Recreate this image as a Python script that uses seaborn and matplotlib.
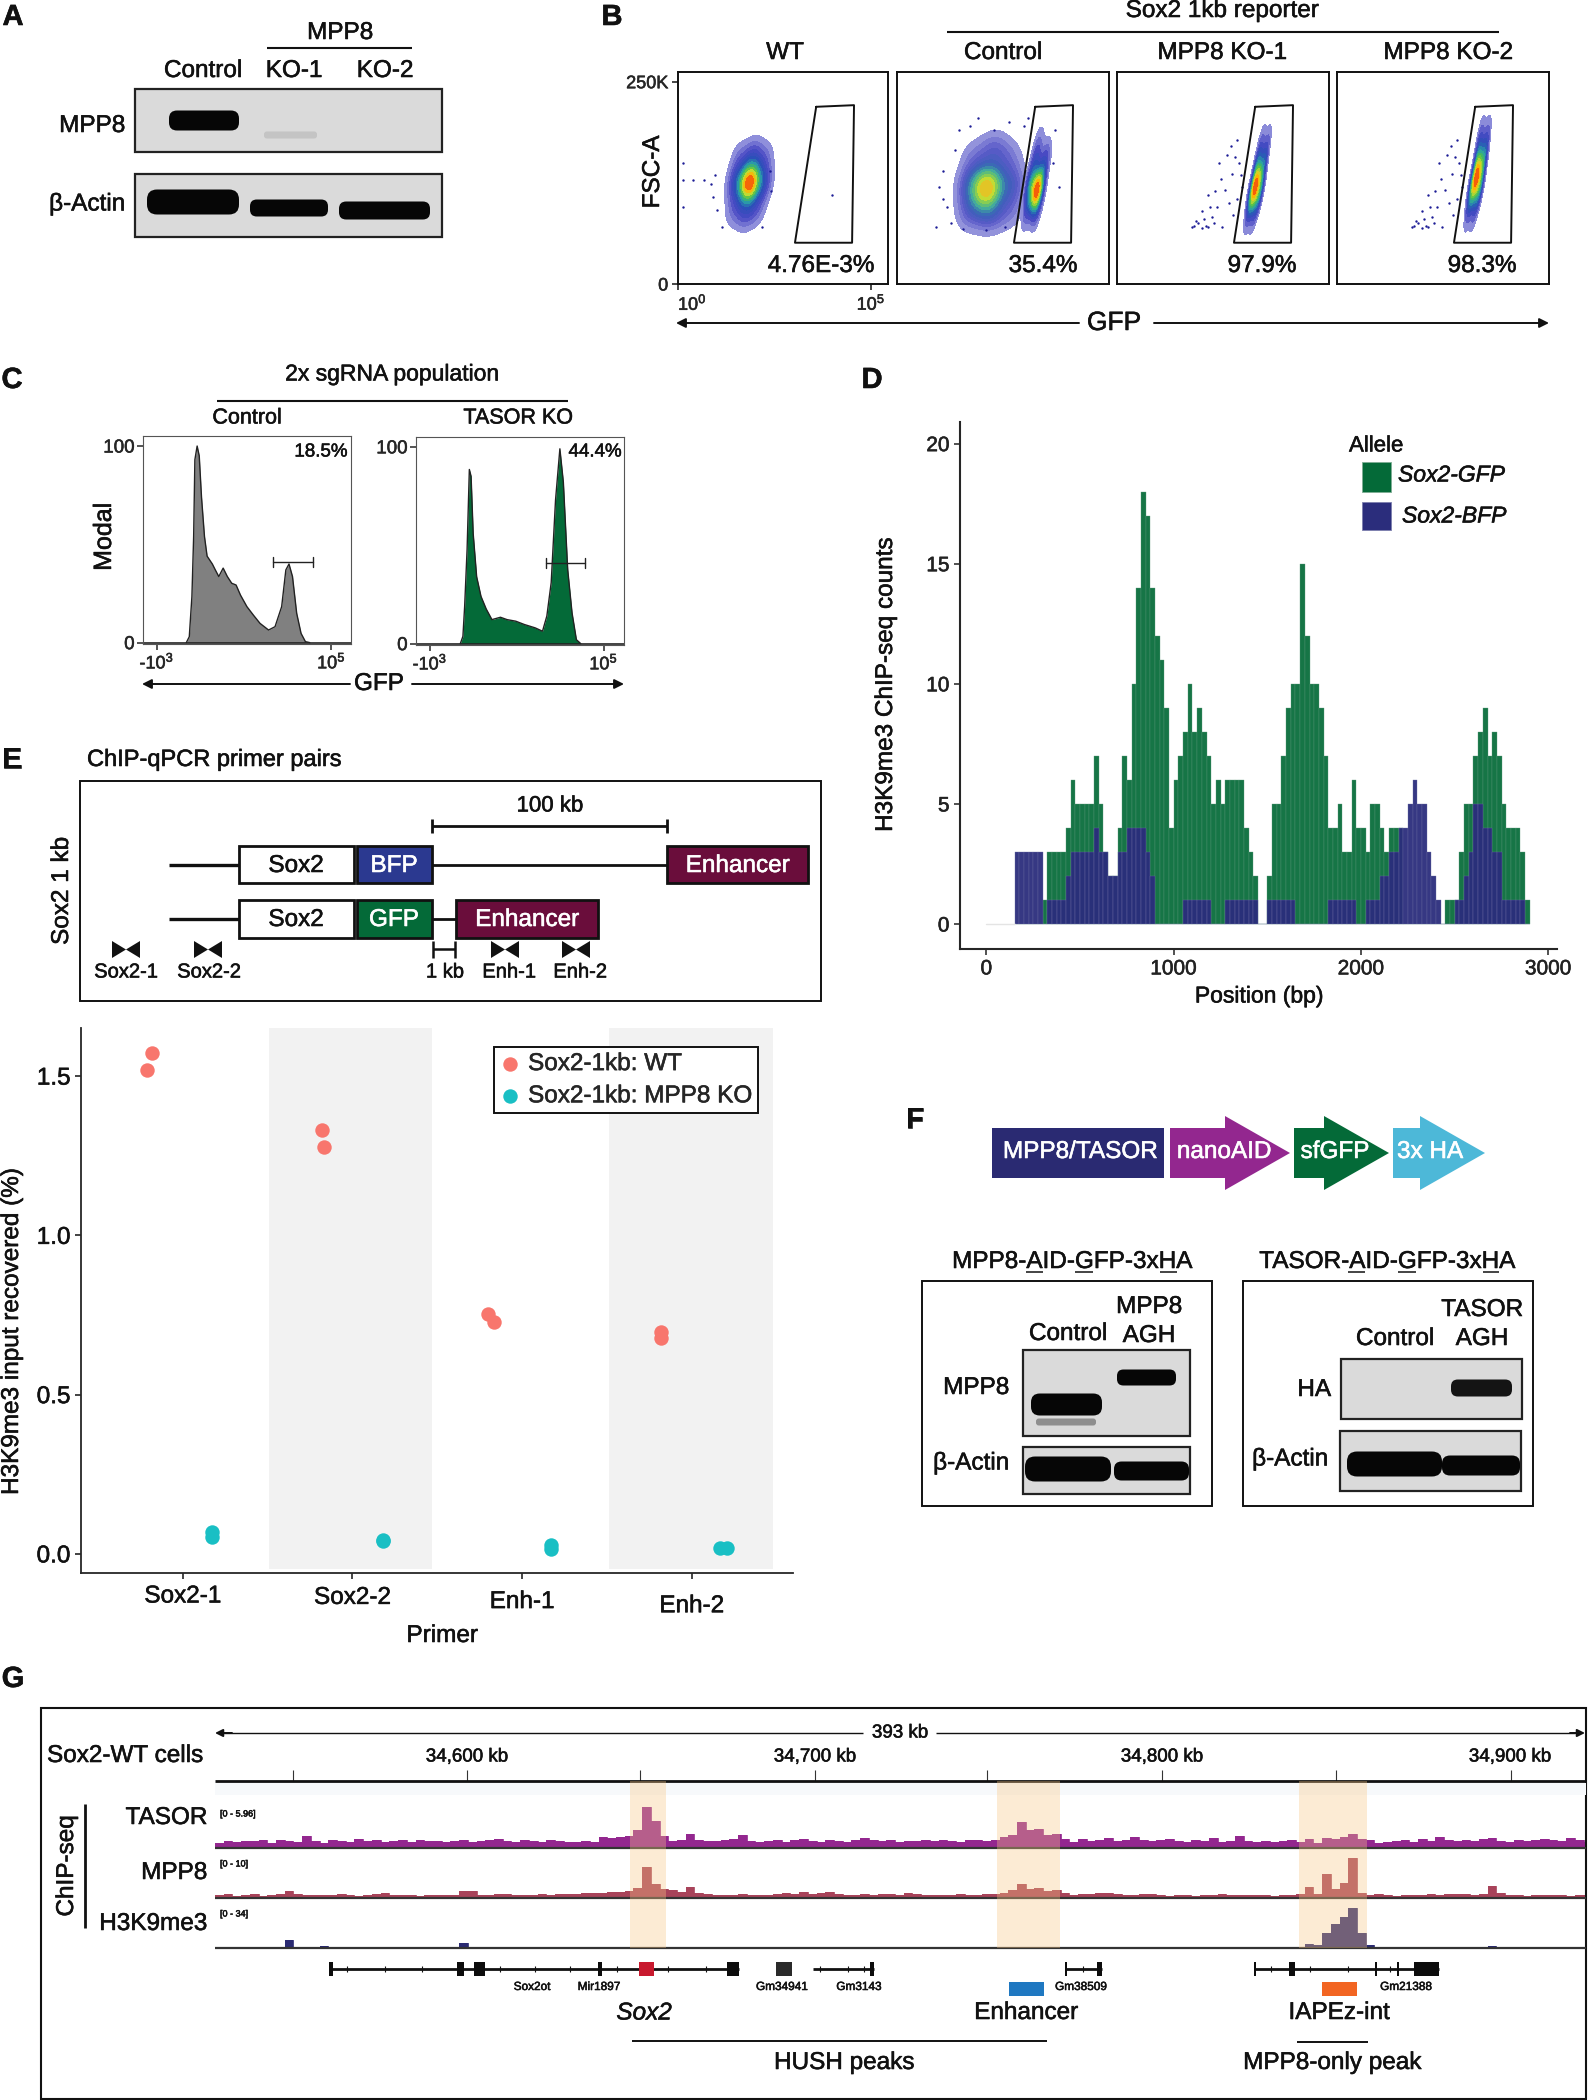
import matplotlib
matplotlib.use('Agg')
import matplotlib.pyplot as plt
import matplotlib.patheffects as pe
from matplotlib.colors import LinearSegmentedColormap
from matplotlib.patches import FancyBboxPatch, FancyArrowPatch, Polygon, Rectangle
from matplotlib.text import Text
import seaborn as sns
import numpy as np

W, H = 1588, 2100

# panel B flow clouds: [x, y, weight] (log GFP, FSC-A in K)
wt_x = [1.45, 1.75, 2.05, 1.5, 1.85, 2.2, 1.6, 1.95, 2.25, 1.85]
wt_y = [92, 88, 92, 125, 125, 125, 155, 160, 155, 125]
wt_w = [1, 1.5, 1, 2, 3, 2, 1, 1.5, 1, 6]
ctrl_left_x = [1.9, 2.4, 2.9, 1.9, 2.4, 2.95, 2.0, 2.5, 2.9, 2.3]
ctrl_left_y = [90, 88, 90, 122, 122, 122, 155, 165, 155, 118]
ctrl_left_w = [1.5, 2, 1, 2, 3, 2, 1, 1.5, 1, 5]
ctrl_right_x = [3.35, 3.6, 3.45, 3.7, 3.6, 3.85, 3.7, 3.6]
ctrl_right_y = [88, 88, 120, 120, 155, 155, 180, 115]
ctrl_right_w = [1, 1, 3, 3, 1.5, 1.5, .5, 6]
ko1_x = [3.4, 3.55, 3.5, 3.7, 3.65, 3.8, 3.75, 3.9, 3.6]
ko1_y = [85, 85, 115, 115, 150, 150, 178, 178, 120]
ko1_w = [1, 1, 3, 3, 2, 2, .7, .7, 6]
ko2_x = [3.4, 3.55, 3.5, 3.7, 3.65, 3.8, 3.72, 3.88, 3.62]
ko2_y = [88, 88, 120, 120, 155, 155, 185, 185, 130]
ko2_w = [1, 1, 3, 3, 2.5, 2.5, 1, 1, 6]

wt_sparse_x = [.14, .14, .4, .67, .86, .14, 1.13, 2.18, 2.38, .9, .95, 2.42, 1.0, 4.0]
wt_sparse_y = [149, 128, 128, 128, 124, 95, 70, 70, 140, 107, 135, 115, 92, 110]
ctrl_sparse_x = [1.1, 1.3, 1.5, 1.4, 1.2, 1.0, 1.6, 1.9, 2.1, 2.5, 2.9, 3.3, 1.7, 2.3, 2.8, 4.1, 4.2, 4.05, 1.2, 3.4]
ctrl_sparse_y = [120, 95, 165, 75, 140, 70, 190, 195, 205, 190, 200, 195, 68, 67, 70, 190, 120, 150, 105, 205]
tail_x = [1.95, 2.0, 2.1, 2.2, 2.25, 2.3, 2.35, 2.46, 2.5, 2.6, 2.72, 2.8, 2.98, 3.05, 3.1, 3.15, 3.24, 2.4, 2.7, 2.9, 3.0, 2.55, 2.85, 3.2, 3.1, 2.95, 2.2, 2.05, 2.65, 2.35]
tail_y = [70, 72, 75, 69, 80, 72, 70, 83, 75, 95, 70, 116, 136, 157, 178, 150, 120, 95, 130, 100, 85, 115, 160, 135, 105, 170, 90, 78, 150, 110]

# panel C histograms (position between the two ticks, % of mode)
ctrl_hist_x = [16.9, 18.6, 20.1, 21.1, 21.8, 23.1, 24.3, 25.6, 27.3, 28.8, 31.8, 33.5, 35.5, 38, 40.4, 42.9, 45.4, 47.9, 51.6, 55.3, 59.1, 64, 67.7, 71.5, 73.9, 75.7, 77.7, 80.1, 82.6, 85.1, 87.6]
ctrl_hist_y = [0, 3, 23.4, 54, 93, 100, 95, 74, 54, 44, 40, 37, 33.6, 37.9, 33.6, 30.2, 29.3, 24.2, 18.3, 14, 9.8, 6.4, 8.1, 18.3, 37, 40, 33.6, 14.9, 4.7, .5, 0]
tasor_hist_x = [17.5, 19, 20, 21.4, 22.7, 23.7, 24.9, 26.9, 29.4, 32.4, 35.7, 40.6, 44.4, 49.4, 54.4, 60.6, 64.8, 67.3, 69.8, 72.3, 74.8, 76.8, 79.3, 81.8, 84.3, 86.8]
tasor_hist_y = [0, 3.7, 19, 47.8, 88.5, 85, 56, 34, 24, 17.6, 12.2, 13.4, 12.2, 11.4, 9.7, 8, 6.3, 14, 31, 73, 99, 82, 37.6, 15.6, 2, 0]

# panel D counts in 25 bp bins starting at 150 bp
gfp_counts = [0, 0, 0, 0, 0, 0, 1, 3, 3, 3, 3, 4, 6, 5, 5, 5, 5, 7, 5, 3, 2, 2, 4, 7, 6, 10, 14, 18, 17, 14,
              12, 11, 9, 4, 6, 7, 8, 10, 8, 9, 8, 7, 5, 6, 5, 6, 6, 6, 6, 4, 3, 2, 0, 0, 2, 5, 5, 7, 9, 10,
              10, 15, 12, 10, 10, 9, 7, 4, 4, 5, 3, 3, 6, 4, 4, 3, 5, 5, 4, 3, 4, 4, 4, 0, 0, 0, 0, 0, 0, 0,
              0, 0, 1, 1, 1, 3, 5, 5, 7, 8, 9, 7, 8, 7, 5, 4, 4, 4, 3, 1]
bfp_counts = [3, 3, 3, 3, 3, 3, 0, 1, 1, 1, 1, 2, 3, 3, 3, 3, 3, 4, 3, 3, 2, 2, 3, 3, 4, 4, 4, 4, 3, 2,
              0, 0, 0, 0, 0, 0, 1, 1, 1, 1, 1, 1, 0, 0, 0, 1, 1, 1, 1, 1, 1, 1, 0, 0, 1, 1, 1, 1, 1, 1,
              0, 0, 0, 0, 0, 0, 0, 1, 1, 1, 1, 1, 1, 0, 0, 1, 1, 1, 2, 2, 3, 3, 4, 4, 5, 6, 5, 5, 3, 2,
              1, 0, 0, 0, 1, 1, 2, 3, 5, 5, 4, 4, 3, 3, 1, 1, 1, 1, 1, 0]
bin_start = 150
bin_width = 25

# panel E ChIP-qPCR
primers = ['Sox2-1', 'Sox2-2', 'Enh-1', 'Enh-2']
wt_pos = [-.18, -.21, .82, .835, 1.80, 1.835, 2.82, 2.82]
wt_val = [1.573, 1.52, 1.33, 1.276, .754, .727, .698, .677]
ko_pos = [.17, .17, 1.18, 1.18, 2.17, 2.17, 3.166, 3.21]
ko_val = [.068, .054, .044, .042, .028, .016, .019, .017]

# panel G tracks, 2.5 kb bins from the left edge of the browser window
track_start = 34527.7
track_bin = 2.5
tasor_track = [.6, .8, .7, .8, .8, .9, .6, .9, .8, .7, 1.3, .8, .6, .9, .8, .7, 1.0, .8, .9, .7, .8, .9, .7, .9, .8, .8, .7, .8, .9, .7,
               .8, .9, 1.0, .8, .7, .9, .8, .7, .9, .8, .7, .7, .8, .7, 1.2, 1.1, 1.2, 1.3, 2.0, 4.5, 3.0, 1.3, .8, .9, 1.5, .9, .8, .8, .9, 1.0,
               1.4, .8, .7, .8, .9, .7, .9, 1.0, .8, .7, .9, .8, .7, .9, 1.1, .9, .8, .9, .7, .8, .8, .9, .8, .9, .8, .7, .9, .9, .8, .9,
               1.2, 1.4, 2.9, 2.0, 2.1, 1.4, 1.5, 1.0, .7, 1.0, .8, .9, 1.1, .8, .9, 1.2, .9, .8, .9, 1.0, .8, .7, .9, .8, 1.1, .7, .8, 1.3, .8, .7,
               .8, .7, .8, .9, .7, 1.0, .6, 1.1, 1.0, 1.2, 1.5, 1.0, .9, .6, .7, .8, .9, .7, 1.0, .8, 1.2, .9, .8, .9, .8, 1.0, 1.1, .8, .7, .9, .8, .9,
               1.0, .9, .8, 1.1, .9, .7, 1.0, .9]
mpp8_track = [.6, .8, .5, .6, .8, .5, .7, .9, 1.5, .8, .7, .6, .7, .6, .8, .6, .5, .7, .8, 1.0, .7, .6, .7, .5, .7, .6, .6, .7, 1.4, 1.5,
              .7, .6, .8, .9, .7, .6, .7, .8, .7, .9, .8, .9, 1.0, 1.1, 1.0, 1.2, 1.3, 1.5, 2.0, 6.3, 2.8, 1.8, 1.6, 1.2, 2.3, 1.0, .8, .7, .6, .6,
              .8, .7, .6, .7, .9, 1.0, .8, 1.2, .9, 1.0, 1.3, .8, .6, .7, .8, .7, .8, .9, .7, 1.0, .8, .6, .6, .7, .7, .8, .7, .7, .8, .9,
              1.0, 1.6, 2.9, 1.9, 2.0, 1.5, 1.6, 1.0, .7, .8, .9, 1.0, 1.1, .8, .6, .7, .9, .8, .6, .5, .7, .6, .5, .6, .7, .8, .7, .6, .7, .7,
              .6, .5, .7, .6, .8, 2.2, .9, 4.9, 1.8, 3.0, 8.0, 1.0, .6, .8, .6, .5, .6, .7, .6, .8, .7, .8, .9, .8, .7, .9, 2.5, 1.0, .7, .6, .5, .6,
              .6, .7, .6, .5, .6, .7, .5, .6]
h3k9_track = [0, 0, 0, 0, 0, 0, 0, .8, 5.4, 1.0, 0, 0, 1.2, 0, 0, 0, 0, 0, 0, 0, 0, 0, 0, 0, 0, 0, 0, .8, 3.4, 0,
              0, 0, 0, 0, .8, 0, 0, 0, 0, 0, .8, 0, 0, 0, 0, 0, 0, 0, 0, 0, 0, 0, 0, 0, 0, 0, 0, 0, 0, 0,
              0, 0, 0, 0, 0, 0, 0, 0, 0, 0, 0, 0, 0, 0, 0, 0, 0, 0, 0, 0, 0, 0, 0, 0, 0, 0, 0, 0, 0, 0,
              0, 0, 0, 0, 0, 0, 0, 0, 0, 0, 0, 0, 0, 0, 0, 0, 0, .8, 0, 0, 0, .8, 0, 0, 0, 0, 0, 0, 0, 0,
              0, 0, 0, 0, .5, 2.5, 2.0, 10, 16.5, 21, 27, 10, 2, 0, 0, 0, 0, 0, 0, 0, 0, 0, 0, 0, 0, 0, 1.5, 0, 0, 0, 0, 0,
              1.0, 0, 0, 0, 0, 0, 0, 0]

sns.set_theme(style='ticks')
plt.rcParams['font.family'] = ['Liberation Sans', 'DejaVu Sans']
plt.rcParams['mathtext.default'] = 'regular'
plt.rcParams['axes.linewidth'] = 1.2

GREEN = '#046a38'
NAVY = '#2b2d7c'
BLUE = '#2b3990'
WINE = '#6a0d3b'
flow_cmap = LinearSegmentedColormap.from_list('flow', ['#a0a0e0', '#4a4ac4', '#2a50b8', '#2aa0a8', '#4cc04c', '#c8dc30', '#ffb000', '#f03010'])
flow_soft = LinearSegmentedColormap.from_list('flow_soft', ['#a0a0e0', '#5a5ac8', '#3a60b8', '#40a8a0', '#70c860', '#c8dc30', '#f0b820'])

fig = plt.figure(figsize=(W / 100, H / 100), dpi=100, facecolor='white')


def ax_px(x0, y0, x1, y1):
    a = fig.add_axes([x0 / W, 1 - y1 / H, (x1 - x0) / W, (y1 - y0) / H])
    a.patch.set_alpha(0)
    return a


ov = fig.add_axes([0, 0, 1, 1], zorder=20)
ov.set_xlim(0, W)
ov.set_ylim(H, 0)
ov.axis('off')
ov.patch.set_alpha(0)


def txt(x, y, s, size=17.5, ha='center', va='center', **kw):
    ov.text(x, y + 2, s, fontsize=size, ha=ha, va=va, color=kw.pop('color', '#111111'), **kw)


def hline(x0, x1, y, lw=1.5, color='#111111'):
    ov.plot([x0, x1], [y, y], color=color, lw=lw, solid_capstyle='butt')


def vline(x, y0, y1, lw=1.5, color='#111111'):
    ov.plot([x, x], [y0, y1], color=color, lw=lw, solid_capstyle='butt')


def rect(x0, y0, x1, y1, fc='none', ec='#111111', lw=1.5, zorder=2, alpha=None):
    ov.add_patch(Rectangle((x0, y0), x1 - x0, y1 - y0, fc=fc, ec=ec, lw=lw, zorder=zorder, alpha=alpha))


def band(x0, y0, x1, y1, color='#060606'):
    y0, y1 = y0 - 1.5, y1 + 1.5
    r = min((y1 - y0) * .4, (x1 - x0) * .2)
    ov.add_patch(FancyBboxPatch((x0 + r, y0 + r), x1 - x0 - 2 * r, y1 - y0 - 2 * r,
                                boxstyle='round,pad=%f,rounding_size=%f' % (r, r), fc=color, ec='none', zorder=3))


def blot(x0, y0, x1, y1):
    rect(x0, y0, x1, y1, fc='#dadada', ec='#222222', lw=1.6)


def arrow(x0, x1, y, color='#111111', scale=14):
    ov.add_patch(FancyArrowPatch((x0, y), (x1, y), arrowstyle='-|>', mutation_scale=scale, lw=1.4, color=color, shrinkA=0, shrinkB=0))


for lab, lx, ly in [('A', 13, 15), ('B', 612, 15), ('C', 12, 378), ('D', 872, 378), ('E', 12, 758), ('F', 915, 1118), ('G', 13, 1677)]:
    txt(lx, ly, lab, size=21, fontweight='bold')

# ---- A
blot(135, 89, 442, 152)
blot(135, 174, 442, 237)
band(169, 112, 239, 129)
band(264, 133, 317, 137, color='#c4c4c4')
band(147, 191, 239, 213)
band(250, 201, 328, 215)
band(339, 203, 430, 218)
txt(340, 31, 'MPP8')
hline(267, 412, 48)
txt(203, 69, 'Control')
txt(294, 69, 'KO-1')
txt(385, 69, 'KO-2')
txt(125, 124, 'MPP8', ha='right')
txt(125, 202, 'β-Actin', ha='right')

# ---- B
gate_x = [3.58, 4.56, 4.51, 3.03, 3.58]
gate_y = [219, 221, 51, 51, 219]
flow_panels = [
    (678, 888, [(wt_x, wt_y, wt_w, flow_cmap)], wt_sparse_x, wt_sparse_y),
    (897, 1109, [(ctrl_left_x, ctrl_left_y, ctrl_left_w, flow_soft), (ctrl_right_x, ctrl_right_y, ctrl_right_w, flow_cmap)], ctrl_sparse_x, ctrl_sparse_y),
    (1117, 1329, [(ko1_x, ko1_y, ko1_w, flow_cmap)], tail_x, tail_y),
    (1337, 1549, [(ko2_x, ko2_y, ko2_w, flow_cmap)], tail_x, tail_y),
]
for i, (x0, x1, blobs, sx, sy) in enumerate(flow_panels):
    a = ax_px(x0, 72, x1, 284)
    for bx, by, bw, cm in blobs:
        sns.kdeplot(x=bx, y=by, weights=bw, fill=True, cmap=cm, levels=14, thresh=.06, ax=a)
    sns.scatterplot(x=sx, y=sy, s=3, color='#1c1c96', linewidth=0, ax=a)
    a.plot(gate_x, gate_y, color='#111111', lw=1.4)
    a.set_xlim(0, (x1 - x0) / 38.6)
    a.set_ylim(0, 262)
    a.set_xlabel('')
    a.set_ylabel('')
    if i == 0:
        a.set_xticks([0, 5])
        labs = a.set_xticklabels(['10$^{0}$', '10$^{5}$'], fontsize=13)
        labs[0].set_ha('left')
        a.set_yticks([0, 250])
        a.set_yticklabels(['0', '250K'], fontsize=13)
        a.tick_params(length=4, width=1.2, pad=3)
    else:
        a.set_xticks([])
        a.set_yticks([])
    for s in a.spines.values():
        s.set_visible(True)
        s.set_linewidth(1.4)
        s.set_color('#111111')

txt(785, 51, 'WT')
txt(1003, 51, 'Control')
txt(1222, 51, 'MPP8 KO-1')
txt(1448, 51, 'MPP8 KO-2')
txt(1222, 9, 'Sox2 1kb reporter')
hline(947, 1499, 32)
txt(821, 264, '4.76E-3%')
txt(1043, 264, '35.4%')
txt(1262, 264, '97.9%')
txt(1482, 264, '98.3%')
txt(653, 170, 'FSC-A', rotation=90)
txt(1114, 321, 'GFP', size=19)
arrow(1079, 676, 323)
arrow(1154, 1549, 323)

# ---- C
hist_panels = [
    (143, 351, 436, 644, ctrl_hist_x, ctrl_hist_y, '#808080', '18.5%', (-7.9, 111.2), (-.7, 105.1), 321),
    (416, 624, 437, 645, tasor_hist_x, tasor_hist_y, GREEN, '44.4%', (-8, 111.7), (-.7, 105), 595),
]
for x0, x1, y0, y1, hx, hy, col, pct, xl, yl, px in hist_panels:
    a = ax_px(x0, y0, x1, y1)
    sns.lineplot(x=hx, y=hy, color='#222222', lw=1, ax=a, estimator=None, sort=False)
    a.fill_between(hx, hy, color=col, lw=0)
    a.plot([66.6, 89.3], [41, 41], color='#222222', lw=1)
    a.plot([66.6, 66.6], [38.5, 43.5], color='#222222', lw=1)
    a.plot([89.3, 89.3], [38.5, 43.5], color='#222222', lw=1)
    a.plot(xl, [0, 0], color='#222222', lw=1.2)
    a.set_xlim(*xl)
    a.set_ylim(*yl)
    a.set_xticks([0, 100])
    a.set_xticklabels(['-10$^{3}$', '10$^{5}$'], fontsize=13)
    a.set_yticks([0, 100])
    a.set_yticklabels(['0', '100'], fontsize=13.5)
    a.tick_params(length=4, width=1.1, pad=2)
    a.set_xlabel('')
    for s in a.spines.values():
        s.set_visible(True)
        s.set_linewidth(.8)
        s.set_color('#555555')
    txt(px, 450, pct, size=13.5)

txt(392, 372, '2x sgRNA population', size=16.5)
hline(217, 568, 401)
txt(247, 416, 'Control', size=15.5)
txt(518, 416, 'TASOR KO', size=15.5)
txt(104, 535, 'Modal', size=18, rotation=90)
txt(379, 682, 'GFP', size=17.5)
arrow(350, 142, 684)
arrow(412, 624, 684)

# ---- D
ad = ax_px(960, 422, 1557, 949)
pos = [bin_start + bin_width * i + bin_width / 2 for i in range(len(gfp_counts))]
hist_edges = [bin_start + bin_width * i for i in range(len(gfp_counts) + 1)]
sns.histplot(x=pos, weights=gfp_counts, bins=hist_edges, color=GREEN, alpha=.93, edgecolor='#5f9a7c', linewidth=.25, ax=ad)
sns.histplot(x=pos, weights=bfp_counts, bins=hist_edges, color=NAVY, alpha=.95, edgecolor='#6d6fa4', linewidth=.25, ax=ad)
ad.plot([0, 150], [0, 0], color='#e4e4e4', lw=1)
ad.set_xlim(-141, 3046)
ad.set_ylim(-1.04, 20.9)
ad.set_xticks([0, 1000, 2000, 3000])
ad.set_yticks([0, 5, 10, 15, 20])
ad.tick_params(labelsize=15, length=4, width=1.1, colors='#222222')
ad.set_xlabel('')
ad.set_ylabel('')
sns.despine(ax=ad)
ad.spines['left'].set_linewidth(1.5)
ad.spines['bottom'].set_linewidth(1.5)
txt(886, 683, 'H3K9me3 ChIP-seq counts', size=17.5, rotation=90)
txt(1259, 994, 'Position (bp)', size=16.5)
txt(1349, 444, 'Allele', size=16, ha='left')
rect(1362, 462, 1391, 492, fc=GREEN, ec='#7fae95', lw=.6)
rect(1362, 502, 1391, 530, fc=NAVY, ec='#7d7fae', lw=.6)
txt(1398, 473, 'Sox2-GFP', size=16.5, ha='left', style='italic')
txt(1402, 514, 'Sox2-BFP', size=16.5, ha='left', style='italic')

# ---- E diagram
txt(87, 758, 'ChIP-qPCR primer pairs', ha='left', size=17)
rect(80, 781, 821, 1001, lw=1.4)
txt(62, 889, 'Sox2 1 kb', size=17.5, rotation=90)
txt(550, 804, '100 kb', size=16)
hline(432, 667, 826, lw=2)
vline(432, 819, 833, lw=2)
vline(667, 819, 833, lw=2)
hline(169, 239, 865, lw=2.4)
hline(169, 239, 919, lw=2.4)
hline(432, 667, 865, lw=2)
hline(432, 456, 919, lw=2)
for y0, y1, y_lab, col, tag, ex0, ex1 in [(846, 883, 864, BLUE, 'BFP', 667, 808), (900, 938, 918, GREEN, 'GFP', 456, 598)]:
    rect(239, y0, 354, y1, fc='white', lw=2)
    txt(296, y_lab, 'Sox2')
    rect(357, y0, 432, y1, fc=col, lw=2)
    txt(394, y_lab, tag, color='white')
    rect(ex0, y0, ex1, y1, fc=WINE, lw=2)
    txt((ex0 + ex1) / 2, y_lab, 'Enhancer', color='white')
for cx in [126, 208, 505, 576]:
    ov.add_patch(Polygon([(cx - 14, 941), (cx + 14, 958), (cx + 14, 941), (cx - 14, 958)], fc='#111111', ec='none'))
hline(433, 455, 949, lw=1.8)
vline(433, 941, 958, lw=1.8)
vline(455, 941, 958, lw=1.8)
for lx, s in [(126, 'Sox2-1'), (209, 'Sox2-2'), (445, '1 kb'), (509, 'Enh-1'), (580, 'Enh-2')]:
    txt(lx, 970, s, size=14.5)

# ---- E scatter
ae = ax_px(81, 1028, 793, 1573)
ae.axvspan(.51, 1.47, ymin=.008, color='#f2f2f2', lw=0, zorder=0)
ae.axvspan(2.51, 3.48, ymin=.008, color='#f2f2f2', lw=0, zorder=0)
sns.scatterplot(x=wt_pos, y=wt_val, color='#f8766d', s=108, linewidth=0, ax=ae, zorder=3, label='Sox2-1kb: WT')
sns.scatterplot(x=ko_pos, y=ko_val, color='#19bfc4', s=108, linewidth=0, ax=ae, zorder=3, label='Sox2-1kb: MPP8 KO')
ae.set_xlim(-.6, 3.597)
ae.set_ylim(-.06, 1.651)
ae.set_xticks(range(4))
ae.set_xticklabels(primers, fontsize=17.5)
ae.set_yticks([0, .5, 1, 1.5])
ae.set_yticklabels(['0.0', '0.5', '1.0', '1.5'], fontsize=17.5)
ae.tick_params(length=4, width=1.1, colors='#111111')
for tick, pad in zip(ae.xaxis.get_major_ticks(), [5, 6, 9, 12]):
    tick.set_pad(pad)
sns.despine(ax=ae)
ae.spines['left'].set_linewidth(1.3)
ae.spines['bottom'].set_linewidth(1.3)
leg = ae.legend(loc='upper left', bbox_to_anchor=(494 / W, 1 - 1047 / H), bbox_transform=fig.transFigure, frameon=True, fancybox=False,
                edgecolor='#111111', framealpha=1, fontsize=17.5, handlelength=.8, handletextpad=.35, borderpad=.25, labelspacing=.42, borderaxespad=0)
leg.get_frame().set_linewidth(1.4)
txt(12, 1330, 'H3K9me3 input recovered (%)', size=17.5, rotation=90)
txt(442, 1634, 'Primer')

# ---- F
rect(992, 1128, 1164, 1178, fc='#2a2a72', ec='none', lw=0)
for x0, xh, x1, col in [(1170, 1225, 1290, '#93278f'), (1294, 1324, 1389, GREEN), (1393, 1420, 1485, '#4db8d8')]:
    ov.add_patch(Polygon([(x0, 1128), (xh, 1128), (xh, 1116), (x1, 1153), (xh, 1190), (xh, 1178), (x0, 1178)], fc=col, ec='none'))
for lx, s in [(1080, 'MPP8/TASOR'), (1224, 'nanoAID'), (1335, 'sfGFP'), (1430, '3x HA')]:
    txt(lx, 1150, s, size=17.5, color='white')

txt(1072, 1260, 'MPP8-AID-GFP-3xHA')
txt(1387, 1260, 'TASOR-AID-GFP-3xHA')
for x0, x1 in [(1026, 1043), (1075, 1093), (1160, 1177), (1348, 1365), (1398, 1416), (1483, 1499)]:
    hline(x0, x1, 1272, lw=1.1)
rect(922, 1281, 1212, 1506, lw=1.4)
rect(1243, 1281, 1533, 1506, lw=1.4)
blot(1023, 1350, 1190, 1436)
blot(1023, 1447, 1190, 1494)
band(1031, 1395, 1102, 1414)
band(1036, 1420, 1096, 1424, color='#8e8e8e')
band(1117, 1371, 1176, 1384)
band(1025, 1458, 1111, 1480)
band(1114, 1463, 1189, 1479)
blot(1341, 1359, 1522, 1419)
blot(1340, 1431, 1521, 1491)
band(1451, 1381, 1512, 1395, color='#141414')
band(1347, 1453, 1442, 1475)
band(1442, 1457, 1520, 1474)
txt(1149, 1305, 'MPP8')
txt(1149, 1334, 'AGH')
txt(1068, 1332, 'Control')
txt(1009, 1386, 'MPP8', ha='right')
txt(1009, 1461, 'β-Actin', ha='right')
txt(1482, 1308, 'TASOR')
txt(1482, 1337, 'AGH')
txt(1395, 1337, 'Control')
txt(1331, 1388, 'HA', ha='right')
txt(1328, 1457, 'β-Actin', ha='right')

# ---- G
rect(41, 1708, 1586, 2099, lw=1.5)
hline(223, 863, 1733, lw=1)
hline(936, 1575, 1733, lw=1)
arrow(232, 215, 1733, scale=11)
arrow(1570, 1585, 1733, scale=11)
txt(900, 1731, '393 kb', size=13.5)
txt(47, 1754, 'Sox2-WT cells', ha='left')
for lx, s in [(467, '34,600 kb'), (815, '34,700 kb'), (1162, '34,800 kb'), (1510, '34,900 kb')]:
    txt(lx, 1755, s, size=13.5)
for tx in [293, 467, 640, 815, 987, 1162, 1336, 1511]:
    vline(tx, 1770, 1781, lw=.8, color='#333333')
hline(215, 1586, 1781, lw=2)
rect(215, 1783, 1586, 1795, fc='#f7f9fb', ec='none', lw=0)

kb_per_px = 1 / 3.487
track_kb = [track_start + track_bin * i for i in range(len(tasor_track))]
tracks = [(1798, 1848, tasor_track, 5.5, '#93278f', 1812, '[0 - 5.96]'),
          (1848, 1898, mpp8_track, 10, '#a8435a', 1862, '[0 - 10]'),
          (1898, 1948, h3k9_track, 34, '#2a2a72', 1912, '[0 - 34]')]
for y0, y1, vals, top, col, ly, rng in tracks:
    a = ax_px(215, y0, 1586, y1)
    sns.lineplot(x=track_kb, y=vals, drawstyle='steps-post', color=col, lw=.6, ax=a, estimator=None)
    a.fill_between(track_kb, vals, step='post', color=col, lw=0)
    a.set_xlim(track_start, track_start + 1371 * kb_per_px)
    a.set_ylim(0, top)
    a.axis('off')
    hline(215, 1586, y1, lw=1.6, color='#333333')
    txt(220, ly, rng, size=6.5, ha='left')

for x0, x1 in [(630, 666), (997, 1060), (1299, 1367)]:
    rect(x0, 1781, x1, 1948, fc='#f9c784', ec='none', lw=0, alpha=.35, zorder=5)

txt(67, 1864, 'ChIP-seq', size=17.5, rotation=90)
vline(85, 1804, 1928, lw=2)
txt(207, 1816, 'TASOR', ha='right')
txt(207, 1871, 'MPP8', ha='right')
txt(207, 1922, 'H3K9me3', ha='right')


def gene(x0, x1, boxes, ticks):
    hline(x0, x1, 1969, lw=2)
    for b0, b1 in boxes:
        rect(b0, 1962, b1, 1976, fc='#0c0c0c', ec='none', lw=0)
    for t in ticks:
        vline(t, 1966, 1972, lw=.8)


gene(329, 739, [(329, 333), (457, 464), (474, 485), (598, 602), (727, 739)], [347, 385, 422, 500, 535, 570, 617, 668, 706])
rect(639, 1962, 654, 1976, fc='#c8192e', ec='none', lw=0)
rect(776, 1962, 792, 1976, fc='#2a2a2a', ec='none', lw=0)
gene(813, 874, [(870, 874)], [820, 848, 864])
gene(1065, 1102, [(1065, 1067), (1097, 1102)], [1083])
gene(1254, 1439, [(1254, 1256), (1289, 1295), (1375, 1377), (1397, 1399), (1414, 1439)], [1271, 1310, 1348, 1390])
for lx, s in [(532, 'Sox2ot'), (599, 'Mir1897'), (782, 'Gm34941'), (859, 'Gm3143'), (1081, 'Gm38509'), (1406, 'Gm21388')]:
    txt(lx, 1985, s, size=8.5)
rect(1009, 1982, 1044, 1996, fc='#1f78c1', ec='none', lw=0)
rect(1322, 1982, 1357, 1996, fc='#f26522', ec='none', lw=0)
txt(644, 2011, 'Sox2', style='italic')
txt(1026, 2011, 'Enhancer')
txt(1339, 2011, 'IAPEz-int')
hline(632, 1047, 2041, lw=1.4)
txt(844, 2061, 'HUSH peaks')
hline(1297, 1368, 2042, lw=1.4)
txt(1332, 2061, 'MPP8-only peak')

# the reference type is a little heavier than the plain font
for t in fig.findobj(Text):
    if t.get_text():
        t.set_path_effects([pe.withStroke(linewidth=.4, foreground=t.get_color())])

fig.savefig('out.png', dpi=100)
